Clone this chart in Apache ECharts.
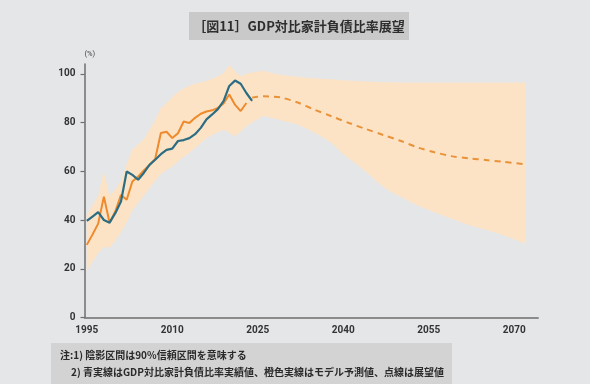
<!DOCTYPE html>
<html>
<head>
<meta charset="utf-8">
<script src="https://cdn.jsdelivr.net/npm/echarts@6/dist/echarts.min.js"></script>
<style>
html,body{margin:0;padding:0;background:#e4e6e8;}
#c{width:590px;height:384px;}
</style>
</head>
<body>
<div id="c"></div>
<script>
// ---- data ----
var titleText = '［図11］GDP対比家計負債比率展望';
var noteLine1 = '注:1) 陰影区間は90%信頼区間を意味する';
var noteLine2 = '2) 青実線はGDP対比家計負債比率実績値、橙色実線はモデル予測値、点線は展望値';
var yTicks = [0, 20, 40, 60, 80, 100];
var xTicks = [1995, 2010, 2025, 2040, 2055, 2070];

var histYears = [1995,1996,1997,1998,1999,2000,2001,2002,2003,2004,2005,2006,2007,2008,2009,2010,2011,2012,2013,2014,2015,2016,2017,2018,2019,2020,2021,2022,2023,2024];
var actualValues = [39.6,41.4,43.2,40.0,38.9,42.8,47.6,59.9,58.5,56.5,59.3,62.6,64.7,67.0,68.8,69.3,72.4,72.8,73.6,75.2,77.8,81.3,83.3,85.5,88.8,95.0,97.2,95.9,92.1,88.9];
var modelYears = [1995,1996,1997,1998,1999,2000,2001,2002,2003,2004,2005,2006,2007,2008,2009,2010,2011,2012,2013,2014,2015,2016,2017,2018,2019,2020,2021,2022,2023];
var modelValues = [29.8,34.0,38.5,49.6,38.9,43.5,50.3,48.3,55.8,57.8,60.3,62.6,65.0,75.7,76.2,73.6,75.6,80.4,79.8,81.9,83.6,84.5,85.0,86.0,87.8,91.5,87.3,84.7,88.0];
var outlookYears = [2024,2025,2026,2027,2029,2032,2035,2038,2041,2044,2047,2050,2053,2056,2059,2062,2065,2068,2072];
var outlookValues = [90.2,90.6,90.8,90.7,90.3,88.2,85.2,82.5,79.8,77.3,74.9,72.5,69.8,67.8,66.2,65.3,64.6,63.9,62.8];

var bandYears = [1995,1996,1997,1998,1999,2000,2001,2002,2003,2004,2005,2006,2007,2008,2009,2010,2011,2012,2013,2014,2015,2016,2017,2018,2019,2020,2021,2022,2023,2024,
  2026,2028,2030,2032,2034,2036,2038,2040,2042,2044,2046,2048,2050,2053,2056,2059,2062,2065,2068,2072];
var bandLower = [19,23,26.5,29,28.5,31.5,35,39,44,47,50,53,56,59,60.5,62,64,66,67.5,69.5,71.5,73.5,75,76,77,75.8,74.3,76.3,78.5,80,
  82.8,81.5,80.3,79.2,77,74.5,71.5,67,63.5,59.8,55.5,52,49.5,46,43.2,40.5,38,36,33.8,30.3];
var bandUpper = [42,46,50,60,50,52.5,56,63,68.8,71,73,77,81,86,88,90.5,92.5,94,95,96,96.5,97,98,99,100.3,103.7,101,99,100,100.5,
  101.2,100,99.3,98.8,98.3,98,97.7,97.3,97,96.8,96.6,96.5,96.4,96.4,96.4,96.4,96.4,96.4,96.4,96.4];

function pairs(xs, ys){ return xs.map(function(x,i){ return [x, ys[i]]; }); }

var chart = echarts.init(document.getElementById('c'), null, {renderer:'canvas'});
var cjk = '"Noto Sans CJK JP", "Noto Sans CJK SC", sans-serif';
var num = 'Roboto, "Noto Sans", sans-serif';

var bandData = bandYears.map(function(y,i){ return [y, bandLower[i], bandUpper[i]]; });

function renderBand(params, api){
  if (params.dataIndex !== 0) return null;
  var pts = [];
  var i;
  for (i = 0; i < bandData.length; i++) pts.push(api.coord([bandData[i][0], bandData[i][2]]));
  for (i = bandData.length - 1; i >= 0; i--) pts.push(api.coord([bandData[i][0], bandData[i][1]]));
  return {type: 'polygon', shape: {points: pts}, style: {fill: '#fde3c6'}};
}

chart.setOption({
  backgroundColor: '#e4e6e8',
  animation: false,
  grid: {left: 84.5, right: 51.8, top: 64, bottom: 66.5, containLabel: false},
  xAxis: {
    type: 'value', min: 1994.6, max: 2074.2,
    axisLine: {show: true, lineStyle: {color: '#6e6e6e', width: 1.5}},
    axisTick: {show: false},
    splitLine: {show: false},
    axisLabel: {customValues: xTicks, color: '#333', fontFamily: num, fontWeight: 'bold', fontSize: 10, margin: 8,
      formatter: function(v){ return String(v); }}
  },
  yAxis: {
    type: 'value', min: 0, max: 104,
    name: '(%)', nameLocation: 'end', nameGap: 6,
    nameTextStyle: {color: '#444', fontSize: 7.5, fontFamily: num, align: 'left', padding: [0,0,0,0]},
    axisLine: {show: true, lineStyle: {color: '#6e6e6e', width: 1.5}},
    axisTick: {show: true, customValues: yTicks, length: 4, lineStyle: {color: '#6e6e6e', width: 1.2}},
    splitLine: {show: false},
    axisLabel: {customValues: yTicks, color: '#333', fontFamily: num, fontWeight: 'bold', fontSize: 10, margin: 9}
  },
  series: [
    {type: 'custom', data: bandData, encode: {x: 0, y: [1, 2]}, renderItem: renderBand, silent: true, z: 1, clip: true},
    {type: 'line', data: pairs(outlookYears, outlookValues), symbol: 'none', smooth: 0.3,
      lineStyle: {color: '#e8923a', width: 2, type: [6, 5]}, z: 3},
    {type: 'line', data: pairs(modelYears, modelValues), symbol: 'none',
      lineStyle: {color: '#ee8a2c', width: 2}, z: 4},
    {type: 'line', data: pairs(histYears, actualValues), symbol: 'none',
      lineStyle: {color: '#2b6d83', width: 2.2}, z: 5}
  ],
  graphic: [
    {type: 'rect', shape: {x: 189, y: 12, width: 220, height: 28}, style: {fill: '#c9c9c9'}, z: 0},
    {type: 'text', x: 299, y: 26.5, style: {text: titleText, fill: '#2e2e2e', font: 'bold 13px ' + cjk, align: 'center', verticalAlign: 'middle'}, z: 1},
    {type: 'rect', shape: {x: 51, y: 343, width: 401, height: 41}, style: {fill: '#d3d3d3'}, z: 0},
    {type: 'text', x: 60, y: 355, style: {text: noteLine1, fill: '#2a2a2a', font: 'bold 10px ' + cjk, align: 'left', verticalAlign: 'middle'}, z: 1},
    {type: 'text', x: 71, y: 372, style: {text: noteLine2, fill: '#2a2a2a', font: 'bold 10px ' + cjk, align: 'left', verticalAlign: 'middle'}, z: 1}
  ]
});
</script>
</body>
</html>
